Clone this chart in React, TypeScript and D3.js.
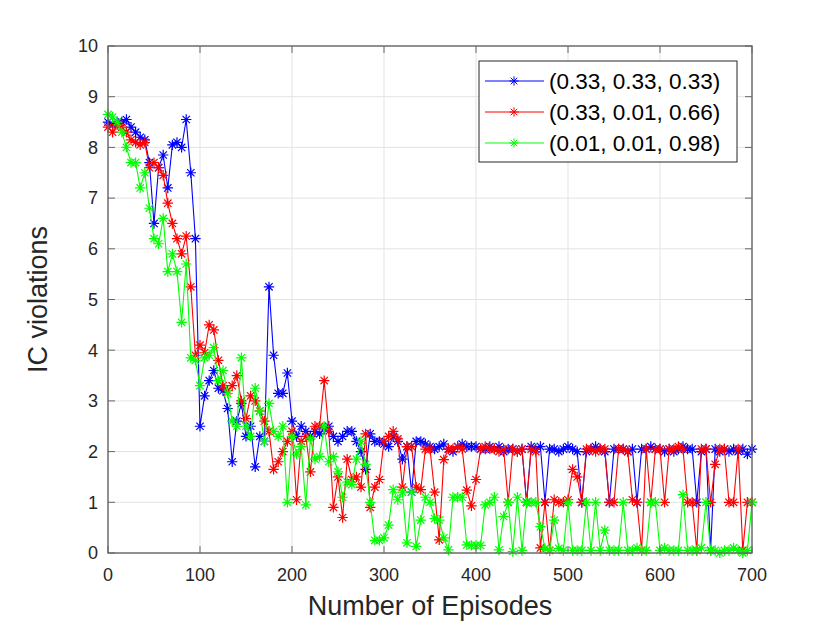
import { useEffect, useRef } from 'react';
import * as d3 from 'd3';

// episodes sampled every 5 steps (0..700)
const episodes: number[] = d3.range(0, 701, 5);

const blueVals: number[] = [
  8.5, 8.45, 8.5, 8.5, 8.55, 8.4, 8.3, 8.2, 8.15, 7.7,
  6.5, 7.6, 7.85, 7.2, 8.05, 8.1, 8.0, 8.55, 7.5, 6.2,
  2.5, 3.1, 3.4, 3.6, 3.25, 3.2, 2.85, 1.8, 2.6, 2.95,
  2.3, 2.5, 1.7, 2.3, 2.2, 5.25, 3.9, 3.15, 3.15, 3.55,
  2.6, 2.3, 2.5, 2.4, 2.3, 2.4, 2.35, 2.45, 2.5, 2.3,
  2.2, 2.3, 2.4, 2.4, 2.2, 2.0, 1.65, 2.35, 2.2, 2.2,
  2.15, 2.1, 2.3, 2.2, 1.85, 2.1, 1.2, 2.2, 2.2, 2.15,
  2.1, 2.05, 2.1, 2.15, 2.05, 2.0, 2.1, 2.15, 2.1, 2.1,
  2.1, 2.05, 2.05, 2.1, 2.05, 2.1, 2.0, 2.05, 2.05, 2.0,
  2.05, 1.0, 2.1, 2.05, 2.1, 1.0, 2.05, 2.05, 2.0, 2.05,
  2.1, 2.05, 2.0, 1.0, 2.0, 2.05, 2.1, 2.05, 2.0, 1.0,
  2.05, 2.05, 2.05, 2.0, 2.05, 1.0, 2.05, 2.05, 2.1, 2.05,
  2.05, 2.0, 2.05, 2.0, 2.05, 2.1, 2.05, 2.05, 1.0, 2.0,
  2.05, 0.05, 2.05, 2.0, 2.05, 2.0, 2.05, 2.0, 2.05, 1.95,
  2.05,
];

const redVals: number[] = [
  8.4, 8.3, 8.45, 8.4, 8.3, 8.15, 8.1, 8.05, 8.1, 7.6,
  7.7, 7.6, 7.45, 6.9, 6.5, 6.2, 5.9, 6.25, 5.25, 3.9,
  4.1, 3.95, 4.5, 4.4, 3.8, 3.3, 3.2, 3.3, 3.5, 3.0,
  2.65, 3.1, 3.0, 2.8, 2.6, 2.4, 1.65, 1.8, 2.0, 2.2,
  2.4, 1.05, 2.2, 2.3, 1.6, 2.5, 2.5, 3.4, 2.4, 0.9,
  1.5, 0.7, 1.85, 1.45, 1.5, 1.3, 2.35, 0.9, 1.3, 1.45,
  2.2, 2.3, 2.4, 2.25, 1.3, 2.1, 2.1, 1.3, 1.25, 2.05,
  2.05, 1.2, 0.26, 1.84, 2.05, 2.05, 2.1, 2.05, 1.24, 0.93,
  1.45, 2.05, 2.1, 2.05, 2.05, 2.0, 2.05, 1.0, 2.05, 2.0,
  2.05, 1.0, 2.05, 2.0, 0.1, 1.0, 0.05, 1.05, 1.0, 1.0,
  1.05, 1.65, 1.5, 1.0, 2.05, 2.05, 2.0, 2.05, 2.05, 1.0,
  1.0, 2.05, 2.05, 2.0, 1.05, 1.0, 0.05, 2.05, 1.0, 2.05,
  2.05, 1.0, 2.05, 2.05, 2.1, 2.05, 1.0, 1.0, 0.05, 2.05,
  2.05, 1.0, 1.75, 2.05, 2.05, 1.0, 1.0, 2.05, 0.05, 1.0,
  1.0,
];

const greenVals: number[] = [
  8.65, 8.6, 8.5, 8.3, 8.0, 7.7, 7.7, 7.2, 7.5, 6.8,
  6.2, 6.1, 6.6, 5.55, 5.9, 5.55, 4.55, 5.7, 3.85, 3.8,
  3.3, 3.85, 3.9, 4.05, 3.4, 3.6, 3.15, 2.6, 2.5, 3.85,
  2.5, 2.3, 3.25, 2.8, 2.2, 2.95, 2.4, 2.3, 2.5, 1.0,
  2.3, 1.95, 2.1, 0.95, 2.25, 1.85, 1.9, 2.5, 1.8, 1.9,
  1.6, 1.1, 1.4, 1.35, 1.85, 2.2, 1.75, 1.0, 0.25, 0.25,
  0.3, 0.55, 1.25, 1.05, 1.2, 0.2, 1.2, 0.13, 0.65, 1.1,
  1.0, 0.68, 0.65, 0.3, 0.06, 1.1, 1.1, 1.1, 0.16, 0.15,
  0.15, 0.15, 0.95, 1.0, 1.1, 0.06, 0.72, 1.0, 0.03, 1.1,
  0.05, 1.0, 1.0, 1.0, 0.52, 0.09, 0.05, 0.65, 0.09, 0.05,
  1.0, 0.05, 0.05, 0.05, 1.0, 0.05, 1.0, 0.05, 0.45, 0.05,
  0.05, 0.05, 1.0, 0.05, 0.05, 0.1, 0.05, 0.05, 1.0, 1.0,
  0.05, 0.1, 0.05, 0.05, 0.05, 1.15, 0.05, 0.05, 0.05, 0.1,
  1.0, 0.05, 0.05, 0.0, 0.05, 0.05, 0.1, 0.05, 0.0, 0.05,
  1.0,
];

const seriesNames = ['(0.33, 0.33, 0.33)', '(0.33, 0.01, 0.66)', '(0.01, 0.01, 0.98)'];
const seriesColors = ['#0000ff', '#ff0000', '#00ff00'];
const xTicks = [0, 100, 200, 300, 400, 500, 600, 700];
const yTicks = [0, 1, 2, 3, 4, 5, 6, 7, 8, 9, 10];

const FONT = '"Liberation Sans", Arial, Helvetica, sans-serif';

function asterisk(r: number) {
  const a = r * 0.7071;
  return `M${-r},0H${r}M0,${-r}V${r}M${-a},${-a}L${a},${a}M${-a},${a}L${a},${-a}`;
}

export default function App() {
  const svgRef = useRef<SVGSVGElement>(null);
  const width = 830;
  const height = 623;
  const margin = { top: 46, right: 78, bottom: 70, left: 108 };

  useEffect(() => {
    if (!svgRef.current) return;
    d3.select(svgRef.current).selectAll('*').remove();

    const innerWidth = width - margin.left - margin.right;
    const innerHeight = height - margin.top - margin.bottom;

    const svg = d3.select(svgRef.current).attr('width', width).attr('height', height);
    svg.append('rect').attr('width', width).attr('height', height).attr('fill', '#fff');

    const g = svg.append('g').attr('transform', `translate(${margin.left},${margin.top})`);

    const x = d3.scaleLinear().domain([0, 700]).range([0, innerWidth]);
    const y = d3.scaleLinear().domain([0, 10]).range([innerHeight, 0]);

    // grid
    g.append('g')
      .selectAll('line')
      .data(xTicks)
      .enter()
      .append('line')
      .attr('x1', (d) => x(d))
      .attr('x2', (d) => x(d))
      .attr('y1', 0)
      .attr('y2', innerHeight)
      .attr('stroke', '#e3e3e3')
      .attr('stroke-width', 1);
    g.append('g')
      .selectAll('line')
      .data(yTicks)
      .enter()
      .append('line')
      .attr('x1', 0)
      .attr('x2', innerWidth)
      .attr('y1', (d) => y(d))
      .attr('y2', (d) => y(d))
      .attr('stroke', '#e3e3e3')
      .attr('stroke-width', 1);

    // series
    const allSeries = [blueVals, redVals, greenVals];
    const line = d3
      .line<number>()
      .x((_, i) => x(episodes[i]))
      .y((d) => y(d));

    allSeries.forEach((vals, si) => {
      g.append('path')
        .datum(vals)
        .attr('d', line)
        .attr('fill', 'none')
        .attr('stroke', seriesColors[si])
        .attr('stroke-width', 1.1);
      g.append('g')
        .selectAll('path')
        .data(vals)
        .enter()
        .append('path')
        .attr('transform', (d, i) => `translate(${x(episodes[i])},${y(d)})`)
        .attr('d', asterisk(5.2))
        .attr('fill', 'none')
        .attr('stroke', seriesColors[si])
        .attr('stroke-width', 1.2);
    });

    // axes (box with inward ticks)
    const axisColor = '#676767';
    const tickLen = 7;
    const axisG = g.append('g');
    axisG
      .append('rect')
      .attr('x', 0)
      .attr('y', 0)
      .attr('width', innerWidth)
      .attr('height', innerHeight)
      .attr('fill', 'none')
      .attr('stroke', axisColor)
      .attr('stroke-width', 1.4);

    xTicks.forEach((t) => {
      axisG.append('line').attr('x1', x(t)).attr('x2', x(t)).attr('y1', innerHeight).attr('y2', innerHeight - tickLen).attr('stroke', axisColor);
      axisG.append('line').attr('x1', x(t)).attr('x2', x(t)).attr('y1', 0).attr('y2', tickLen).attr('stroke', axisColor);
    });
    yTicks.forEach((t) => {
      axisG.append('line').attr('x1', 0).attr('x2', tickLen).attr('y1', y(t)).attr('y2', y(t)).attr('stroke', axisColor);
      axisG.append('line').attr('x1', innerWidth).attr('x2', innerWidth - tickLen).attr('y1', y(t)).attr('y2', y(t)).attr('stroke', axisColor);
    });

    g.append('g')
      .selectAll('text')
      .data(xTicks)
      .enter()
      .append('text')
      .attr('x', (d) => x(d))
      .attr('y', innerHeight + 28)
      .attr('text-anchor', 'middle')
      .attr('font-family', FONT)
      .attr('font-size', 18)
      .attr('fill', '#262626')
      .text((d) => d);

    g.append('g')
      .selectAll('text')
      .data(yTicks)
      .enter()
      .append('text')
      .attr('x', -10)
      .attr('y', (d) => y(d))
      .attr('dy', '0.35em')
      .attr('text-anchor', 'end')
      .attr('font-family', FONT)
      .attr('font-size', 18)
      .attr('fill', '#262626')
      .text((d) => d);

    // axis labels
    svg
      .append('text')
      .attr('x', margin.left + innerWidth / 2)
      .attr('y', 615)
      .attr('text-anchor', 'middle')
      .attr('font-family', FONT)
      .attr('font-size', 27)
      .attr('fill', '#262626')
      .text('Number of Episodes');

    svg
      .append('text')
      .attr('transform', `translate(47,${margin.top + innerHeight / 2}) rotate(-90)`)
      .attr('text-anchor', 'middle')
      .attr('font-family', FONT)
      .attr('font-size', 27)
      .attr('fill', '#262626')
      .text('IC violations');

    // legend
    const legend = svg.append('g');
    legend
      .append('rect')
      .attr('x', 479)
      .attr('y', 61)
      .attr('width', 258)
      .attr('height', 101)
      .attr('fill', '#fff')
      .attr('stroke', '#262626')
      .attr('stroke-width', 1);
    seriesNames.forEach((name, i) => {
      const cy = 81 + i * 31;
      legend.append('line').attr('x1', 485).attr('x2', 544).attr('y1', cy).attr('y2', cy).attr('stroke', seriesColors[i]).attr('stroke-width', 1);
      legend
        .append('path')
        .attr('transform', `translate(514,${cy})`)
        .attr('d', asterisk(4.6))
        .attr('fill', 'none')
        .attr('stroke', seriesColors[i]);
      legend
        .append('text')
        .attr('x', 549)
        .attr('y', cy)
        .attr('dy', '0.36em')
        .attr('font-family', FONT)
        .attr('font-size', 22.5)
        .attr('fill', '#000')
        .text(name);
    });
  }, []);

  return (
    <svg
      ref={svgRef}
      width={width}
      height={height}
      style={{ position: 'absolute', left: 0, top: 0, display: 'block' }}
    />
  );
}
